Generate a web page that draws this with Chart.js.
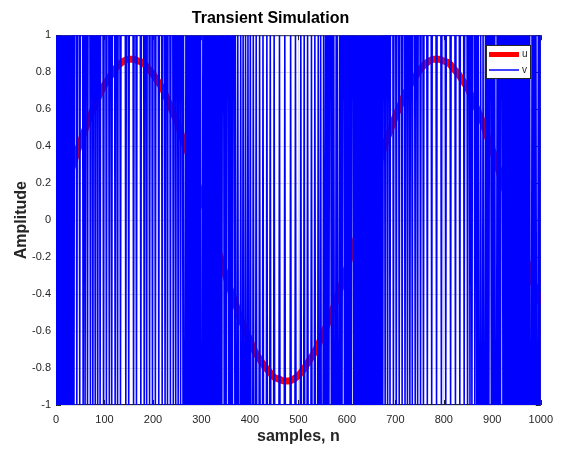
<!DOCTYPE html>
<html>
<head>
<meta charset="utf-8">
<title>Transient Simulation</title>
<script src="https://cdn.jsdelivr.net/npm/chart.js@4.4.1/dist/chart.umd.min.js"></script>
<style>
    html, body { margin: 0; padding: 0; background: #fff; }
    canvas { display: block; }
</style>
</head>
<body>
<canvas id="simChart" width="561" height="450"></canvas>
<script>
// u: sine input, every uStep samples
const uStep = 10;
const uValues = [
    0.00, 0.09, 0.17, 0.26, 0.34, 0.42, 0.49, 0.56, 0.62, 0.68,
    0.73, 0.77, 0.81, 0.84, 0.86, 0.87, 0.87, 0.86, 0.85, 0.82,
    0.79, 0.75, 0.71, 0.65, 0.59, 0.53, 0.45, 0.38, 0.30, 0.21,
    0.13, 0.04, -0.04, -0.13, -0.21, -0.30, -0.38, -0.45, -0.53, -0.59,
    -0.65, -0.71, -0.75, -0.79, -0.82, -0.85, -0.86, -0.87, -0.87, -0.86,
    -0.84, -0.81, -0.77, -0.73, -0.68, -0.62, -0.56, -0.49, -0.42, -0.34,
    -0.26, -0.17, -0.09, 0.00, 0.09, 0.17, 0.26, 0.34, 0.42, 0.49,
    0.56, 0.62, 0.68, 0.73, 0.77, 0.81, 0.84, 0.86, 0.87, 0.87,
    0.86, 0.85, 0.82, 0.79, 0.75, 0.71, 0.65, 0.59, 0.53, 0.45,
    0.38, 0.30, 0.21, 0.13, 0.04, -0.04, -0.13, -0.21, -0.30, -0.38,
    -0.45,
];

// v: +/-1 bitstream. stretches: 1 = mostly high, -1 = mostly low, 0 = flips every sample (solid blue)
const vSamples = 1000;
const vRunStart = [0, 35, 262, 372, 556, 676, 868];
const vRunMode = [0, 1, 0, -1, 0, 1, 0];
// single-sample pulses to the other rail inside the high / low stretches
const vPulses = [
    37, 43, 49, 56, 60, 65, 71, 76, 81, 86, 91, 98, 104, 110, 115, 122, 127, 133,
    144, 150, 160, 166, 175, 182, 187, 193, 199, 205, 212, 219, 225, 230, 236, 242, 247, 252, 257,
    375, 381, 386, 391, 396, 401, 407, 413, 420, 427, 435, 442, 450, 461, 472, 484, 494,
    505, 512, 519, 527, 534, 541, 546, 552,
    679, 684, 689, 696, 702, 708, 714, 720, 725, 730, 735, 741, 746, 752, 758, 766,
    775, 785, 795, 804, 814, 824, 833, 842, 849, 854, 858, 864,
];
// light streaks inside the solid stretches: v stays put for a few samples there
const vHolds = [265, 300, 344, 353, 366, 565, 575, 582, 592, 611, 873, 878, 883, 895, 907, 919, 979, 992];
const vHoldLen = 3;

const xTicks = [0, 100, 200, 300, 400, 500, 600, 700, 800, 900, 1000];
const yTicks = [-1, -0.8, -0.6, -0.4, -0.2, 0, 0.2, 0.4, 0.6, 0.8, 1];

const buildV = () => {
    const out = [];
    let cur = 1;
    let run = 0;
    const inHold = (n) => vHolds.some((h) => n >= h && n < h + vHoldLen);
    for (let n = 0; n <= vSamples; n++) {
        while (run + 1 < vRunStart.length && n >= vRunStart[run + 1]) run++;
        const mode = vRunMode[run];
        if (mode === 0) {
            if (!inHold(n)) cur = -cur;
        } else {
            cur = vPulses.includes(n) ? -mode : mode;
        }
        out.push({ x: n, y: cur });
    }
    return out;
};

const axisColor = "#262626";
const gridColor = "#dedede";
const fontFamily = "'Liberation Sans', Arial, Helvetica, sans-serif";

const boxPlugin = {
    id: "box",
    beforeDatasetsDraw: (chart) => {
        const { ctx, chartArea: a, scales } = chart;
        ctx.save();
        ctx.strokeStyle = axisColor;
        ctx.lineWidth = 1;
        ctx.strokeRect(a.left + 0.5, a.top + 0.5, a.right - a.left - 1, a.bottom - a.top - 1);
        ctx.beginPath();
        xTicks.forEach((t) => {
            const px = Math.round(scales.x.getPixelForValue(t)) + 0.5;
            ctx.moveTo(px, a.bottom); ctx.lineTo(px, a.bottom - 5);
            ctx.moveTo(px, a.top); ctx.lineTo(px, a.top + 5);
        });
        yTicks.forEach((t) => {
            const py = Math.round(scales.y.getPixelForValue(t)) + 0.5;
            ctx.moveTo(a.left, py); ctx.lineTo(a.left + 5, py);
            ctx.moveTo(a.right, py); ctx.lineTo(a.right - 5, py);
        });
        ctx.stroke();
        ctx.restore();
    },
};

const legendPlugin = {
    id: "boxLegend",
    afterDraw: (chart) => {
        const { ctx } = chart;
        ctx.save();
        ctx.fillStyle = "#fff";
        ctx.fillRect(486.5, 45.5, 44, 33);
        ctx.strokeStyle = axisColor;
        ctx.lineWidth = 1;
        ctx.strokeRect(486.5, 45.5, 44, 33);
        chart.data.datasets.forEach((ds, i) => {
            const y = 54.5 + i * 15.5;
            ctx.strokeStyle = ds.borderColor;
            ctx.lineWidth = i === 0 ? 5 : 1.5;
            ctx.beginPath();
            ctx.moveTo(489, y);
            ctx.lineTo(519, y);
            ctx.stroke();
            ctx.fillStyle = axisColor;
            ctx.font = "10px " + fontFamily;
            ctx.textBaseline = "middle";
            ctx.fillText(ds.label, 522, y);
        });
        ctx.restore();
    },
};

const ctx = document.getElementById("simChart").getContext("2d");
const simChart = new Chart(ctx, {
    type: "line",
    data: {
        datasets: [
            {
                label: "u",
                data: uValues.map((val, i) => ({ x: i * uStep, y: val })),
                borderColor: "#ff0000",
                borderWidth: 7,
                pointRadius: 0,
                cubicInterpolationMode: "monotone",
                order: 2,
            },
            {
                label: "v",
                data: buildV(),
                borderColor: "#0000ff",
                borderWidth: 1.6,
                pointRadius: 0,
                // tiny tension keeps Chart.js off its pixel-collapsing fast path
                tension: 0.0001,
                order: 1,
            },
        ],
    },
    options: {
        responsive: false,
        animation: false,
        events: [],
        layout: { padding: { left: 0, right: 20, top: 0, bottom: 0 } },
        plugins: {
            legend: { display: false },
            tooltip: { enabled: false },
            title: {
                display: true,
                text: "Transient Simulation",
                color: "#000",
                font: { family: fontFamily, size: 16, weight: "bold" },
                padding: { top: 9, bottom: 7 },
            },
        },
        scales: {
            x: {
                type: "linear",
                min: 0,
                max: 1000,
                afterBuildTicks: (scale) => {
                    scale.ticks = xTicks.map((v) => ({ value: v }));
                },
                afterFit: (scale) => {
                    scale.height = 45;
                },
                ticks: {
                    color: axisColor,
                    font: { family: fontFamily, size: 11 },
                    padding: 8,
                    maxRotation: 0,
                    autoSkip: false,
                    callback: (v) => String(v),
                },
                grid: { color: gridColor, drawTicks: false },
                border: { display: false },
                title: {
                    display: true,
                    text: "samples, n",
                    color: axisColor,
                    font: { family: fontFamily, size: 16, weight: "bold" },
                    padding: { top: 0, bottom: 4 },
                },
            },
            y: {
                type: "linear",
                min: -1,
                max: 1,
                afterBuildTicks: (scale) => {
                    scale.ticks = yTicks.map((v) => ({ value: v }));
                },
                afterFit: (scale) => {
                    scale.width = 56;
                },
                ticks: {
                    color: axisColor,
                    font: { family: fontFamily, size: 11 },
                    padding: 5,
                    autoSkip: false,
                    callback: (v) => String(Math.round(v * 10) / 10),
                },
                grid: { color: gridColor, drawTicks: false },
                border: { display: false },
                title: {
                    display: true,
                    text: "Amplitude",
                    color: axisColor,
                    font: { family: fontFamily, size: 16, weight: "bold" },
                    padding: { top: 12, bottom: 0 },
                },
            },
        },
    },
    plugins: [boxPlugin, legendPlugin],
});
</script>
</body>
</html>
